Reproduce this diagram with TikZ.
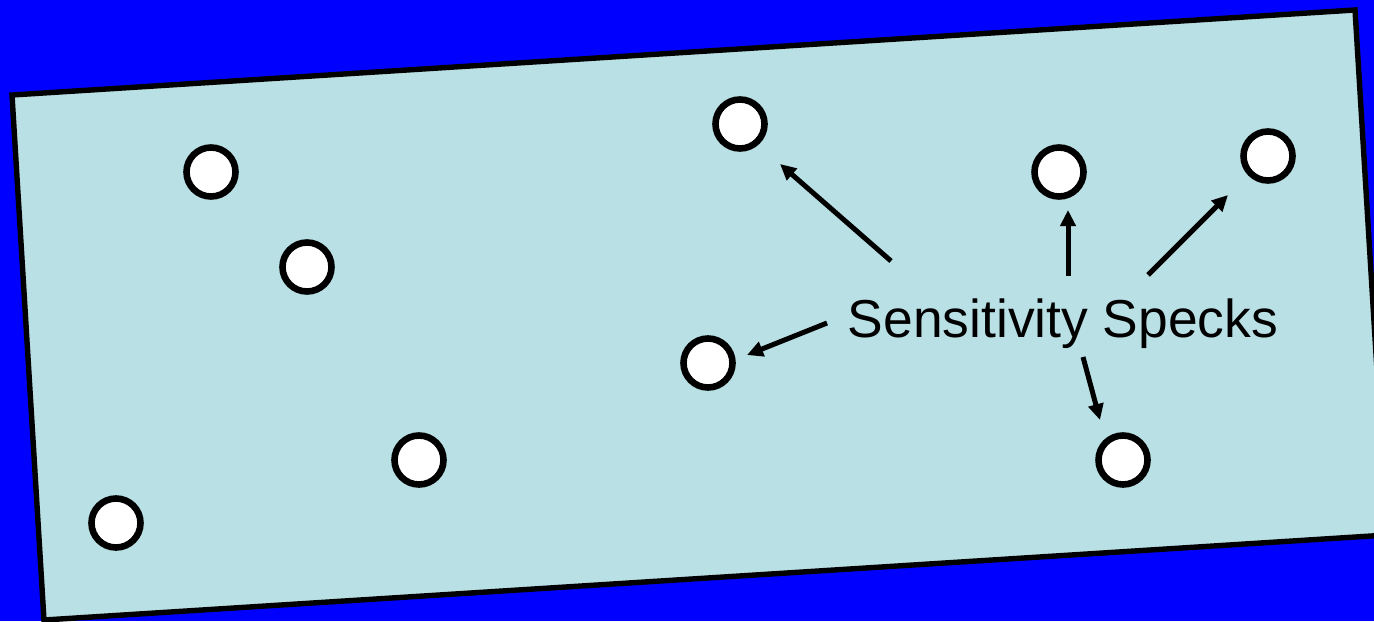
\documentclass[tikz,border=0pt]{standalone}
\usepackage{fontspec}
\setmainfont{Liberation Sans}
\usetikzlibrary{arrows.meta}
\definecolor{deepblue}{RGB}{0,0,255}
\definecolor{panel}{RGB}{185,224,228}
\tikzset{
  speck/.style={circle, draw=black, fill=white, line width=3.3pt, minimum size=24.5pt, inner sep=0pt},
  pointer/.style={line width=2.5pt, -{Triangle[length=8pt,width=7.5pt]}},
  caption/.style={font=\fontsize{26.7pt}{30pt}\selectfont, inner sep=0pt, anchor=base}
}
\begin{document}
\begin{tikzpicture}[x=0.5pt, y=-0.5pt]
  % background
  \fill[deepblue] (0,0) rectangle (1374,621);
  \useasboundingbox (0,0) rectangle (1374,621);
  % tilted panel
  \draw[line width=2.7pt, fill=panel, line join=miter]
    (12,95) -- (1355,10) -- (1387,535) -- (44,620) -- cycle;
  % specks
  \node[speck] (s1) at (211,172) {};
  \node[speck] (s2) at (307,267) {};
  \node[speck] (s3) at (419,460) {};
  \node[speck] (s4) at (116,523) {};
  \node[speck] (s5) at (740,124) {};
  \node[speck] (s6) at (1059,172) {};
  \node[speck] (s7) at (1268,156) {};
  \node[speck] (s8) at (708,363) {};
  \node[speck] (s9) at (1123,460) {};
  % label
  \node[caption] (lbl) at (1063,337) {Sensitivity Specks};
  % arrow tails near the label
  \coordinate (t5) at (891,261);
  \coordinate (t6) at (1068,276);
  \coordinate (t7) at (1148,275);
  \coordinate (t8) at (827,323);
  \coordinate (t9) at (1083,357);
  % arrow tips near the specks
  \coordinate (h5) at (780,164);
  \coordinate (h6) at (1068,210);
  \coordinate (h7) at (1228,195);
  \coordinate (h8) at (747,355);
  \coordinate (h9) at (1100,420);
  \draw[pointer] (t5) -- (h5);
  \draw[pointer] (t6) -- (h6);
  \draw[pointer] (t7) -- (h7);
  \draw[pointer] (t8) -- (h8);
  \draw[pointer] (t9) -- (h9);
\end{tikzpicture}
\end{document}
